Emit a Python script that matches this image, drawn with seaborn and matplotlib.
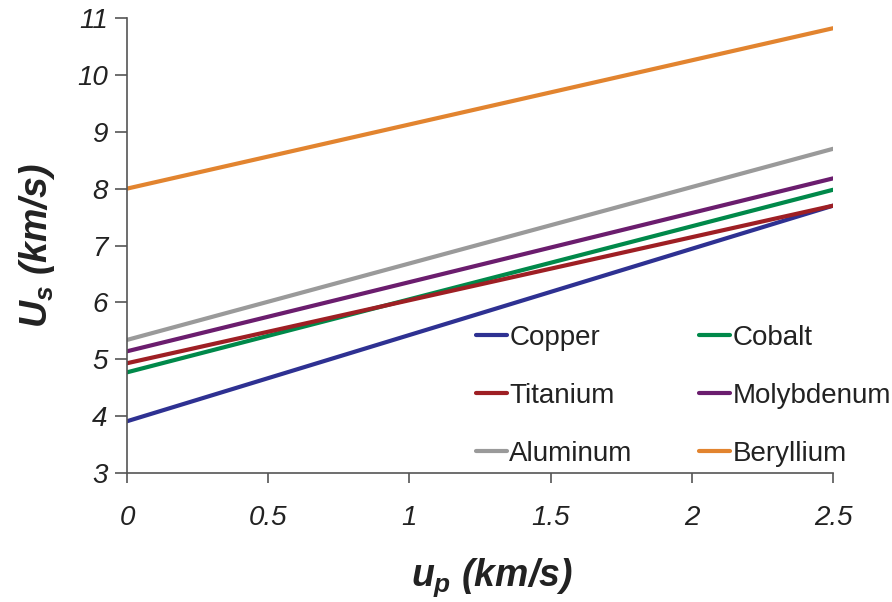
import numpy as np
import pandas as pd
import matplotlib
matplotlib.use("Agg")
import matplotlib.pyplot as plt
import seaborn as sns

materials = ["Copper", "Cobalt", "Titanium", "Molybdenum", "Aluminum", "Beryllium"]
up_values = [0.0, 2.5]
us_start = [3.91, 4.77, 4.93, 5.14, 5.34, 8.00]
us_end = [7.70, 7.98, 7.70, 8.18, 8.70, 10.82]
colors = ["#2E3192", "#00894A", "#9E1F24", "#6B1D6E", "#9A9A9A", "#E2842F"]
xticks = [0, 0.5, 1, 1.5, 2, 2.5]
xticklabels = ["0", "0.5", "1", "1.5", "2", "2.5"]
yticks = [3, 4, 5, 6, 7, 8, 9, 10, 11]

rows = []
for m, a, b in zip(materials, us_start, us_end):
    rows.append({"material": m, "up": up_values[0], "Us": a})
    rows.append({"material": m, "up": up_values[1], "Us": b})
df = pd.DataFrame(rows)

sns.set_theme(style="white")
plt.rcParams["font.family"] = ["Liberation Sans", "DejaVu Sans"]
plt.rcParams["mathtext.fontset"] = "custom"
plt.rcParams["mathtext.it"] = "Liberation Sans:italic:bold"
plt.rcParams["mathtext.rm"] = "Liberation Sans:bold"
plt.rcParams["mathtext.bf"] = "Liberation Sans:bold"

fig = plt.figure(figsize=(8.92, 6.02), dpi=100)
ax = fig.add_axes([127/892, 1 - 473/602, (833-127)/892, (473-18)/602])

sns.lineplot(data=df, x="up", y="Us", hue="material", hue_order=materials,
             palette=colors, linewidth=3, ax=ax, legend=False)

ax.set_xlim(0, 2.5)
ax.set_ylim(3, 11)
ax.set_xticks(xticks)
ax.set_xticklabels(xticklabels)
ax.set_yticks(yticks)
for s in ["top", "right"]:
    ax.spines[s].set_visible(False)
for s in ["left", "bottom"]:
    ax.spines[s].set_color("#555555")
    ax.spines[s].set_linewidth(1.2)
ax.tick_params(axis="y", direction="out", length=9, width=1.2, color="#555555",
               left=True, labelsize=20, pad=5, labelcolor="#222222")
ax.tick_params(axis="x", direction="out", length=7, width=1.2, color="#555555",
               bottom=True, labelsize=20, pad=16, labelcolor="#222222")
for lab in ax.get_xticklabels() + ax.get_yticklabels():
    lab.set_fontstyle("italic")

ax.set_xlabel(r"$u_p$ (km/s)", fontsize=27, fontweight="bold", fontstyle="italic",
              labelpad=18, color="#222222")
ax.xaxis.label.set_x(0.517)
ax.set_ylabel(r"$U_s$ (km/s)", fontsize=27, fontweight="bold", fontstyle="italic",
              labelpad=14, color="#222222")

handles = ax.get_lines()[:len(materials)]
order = [0, 2, 4, 1, 3, 5]
leg = ax.legend([handles[i] for i in order], [materials[i] for i in order],
                ncol=2, frameon=False, loc="upper left",
                bbox_to_anchor=(476/892, 1 - 325/602), bbox_transform=fig.transFigure,
                fontsize=20, handlelength=1.1, handletextpad=0.1,
                columnspacing=2.4, labelspacing=1.15, borderaxespad=0, borderpad=0)
for t in leg.get_texts():
    t.set_color("#222222")

fig.savefig("out.png", dpi=100)
